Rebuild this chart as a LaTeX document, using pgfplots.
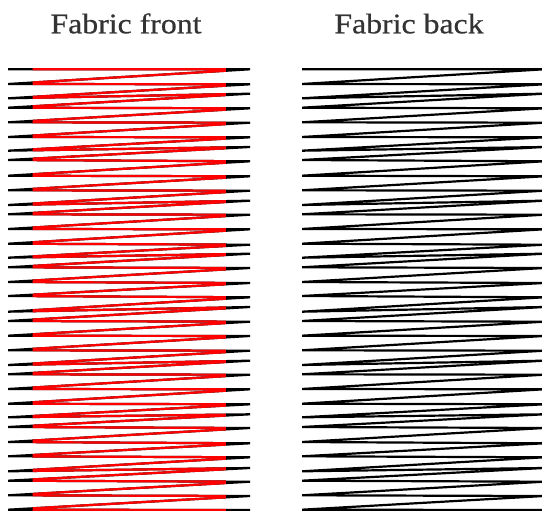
\documentclass[border=0pt]{standalone}
\usepackage{pgfplots}
\pgfplotsset{compat=1.18}
\usepackage{pgfplotstable}
\usepackage{fontspec}
\newfontfamily\titlefont{Liberation Serif}[FakeStretch=1.12,FakeBold=0.6]
\definecolor{titlegray}{HTML}{333333}
% s = side of the stitch (0 = left edge, 1 = right edge), y = height (bp from bottom)
\pgfplotstableread{
s y
0 441.7
1 441.7
0 427
1 426.7
0 412.7
1 417.3
0 403.3
1 402.7
0 388.7
1 388.3
0 374
1 373.7
0 360.3
1 364
0 351
1 349.7
0 335.3
1 334.7
0 320.7
1 320.3
0 306
1 310.3
0 296.7
1 296.3
0 282
1 281.7
0 267.3
1 266.3
0 253.3
1 257.3
0 243.7
1 243
0 229
1 228
0 215
1 213.7
0 199.3
1 204
0 190
1 189.3
0 175.3
1 175
0 160.7
1 160.3
0 146
1 150.3
0 136.7
1 136.3
0 122
1 121.7
0 107.3
1 106.7
0 93.7
1 96.7
0 84
1 83
0 69
1 67.7
0 54.7
1 53.7
0 39.7
1 43
0 30.3
1 29.3
0 15.7
1 15
0 1.3
1 1
0 -13.5
1 -10
}\stitches
\begin{document}
\begin{tikzpicture}
\useasboundingbox (0bp,0bp) rectangle (542bp,511bp);
\pgfplotsset{panel/.style={hide axis, scale only axis, ymin=0, ymax=451,
  height=451bp, anchor=south west, clip=true}}
% Fabric front: full thread in black
\begin{axis}[panel, at={(8bp,0bp)}, width=242bp, xmin=0, xmax=1]
\addplot[black, line width=2.2bp, line join=round] table[x=s, y=y]{\stitches};
\end{axis}
% Fabric front: visible part of the thread in red
\begin{axis}[panel, at={(32.5bp,0bp)}, width=193.5bp, xmin=0.10124, xmax=0.90083]
\addplot[red, line width=2.2bp, line join=round] table[x=s, y=y]{\stitches};
\end{axis}
% Fabric back
\begin{axis}[panel, at={(302bp,0bp)}, width=240bp, xmin=0, xmax=0.99174]
\addplot[black, line width=2.2bp, line join=round] table[x=s, y=y]{\stitches};
\end{axis}
\node[anchor=base, text=titlegray, font=\titlefont\fontsize{28.5}{30}\selectfont]
  at (126bp,477.7bp) {Fabric front};
\node[anchor=base, text=titlegray, font=\titlefont\fontsize{28.5}{30}\selectfont]
  at (409bp,477.7bp) {Fabric back};
\end{tikzpicture}
\end{document}
